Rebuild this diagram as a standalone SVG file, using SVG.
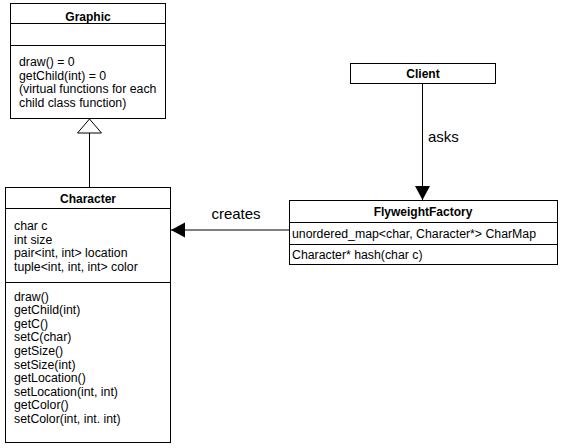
<svg xmlns="http://www.w3.org/2000/svg" width="561" height="448" viewBox="0 0 561 448">
<style>
.box{fill:#fff;stroke:#000;stroke-width:1}
.ln{stroke:#000;stroke-width:1;fill:none}
.t{font-family:"Liberation Sans",Arial,sans-serif;font-size:12.3px;fill:#000}
.b{font-family:"Liberation Sans",Arial,sans-serif;font-size:12px;font-weight:bold;fill:#000;text-anchor:middle}
.lbl{font-family:"Liberation Sans",Arial,sans-serif;font-size:15px;fill:#000}
</style>
<defs>
<marker id="tri" markerWidth="26" markerHeight="16" refX="14" refY="7.5" orient="auto" markerUnits="userSpaceOnUse"><path d="M0,0 L14,7.5 L0,15 Z" fill="#000"/></marker>
</defs>
<rect width="561" height="448" fill="#fff"/>
<g id="connectors">
<line class="ln" x1="89.5" y1="133" x2="89.5" y2="187"/>
<path d="M89.5,119 L77.5,133 L101.5,133 Z" fill="#fff" stroke="#000"/>
<line class="ln" x1="422.5" y1="84" x2="422.5" y2="200" marker-end="url(#tri)"/>
<text class="lbl" x="428" y="142">asks</text>
<line class="ln" x1="289" y1="230" x2="171" y2="230" marker-end="url(#tri)"/>
<text class="lbl" x="236" y="219" text-anchor="middle">creates</text>
</g>
<g id="graphic">
<rect class="box" x="10.5" y="3.5" width="155" height="115"/>
<line class="ln" x1="10.5" y1="23.5" x2="165.5" y2="23.5"/>
<line class="ln" x1="10.5" y1="45.5" x2="165.5" y2="45.5"/>
<text class="b" x="88" y="21">Graphic</text>
<text class="t" x="19" y="66">draw() = 0</text>
<text class="t" x="19" y="79.7">getChild(int) = 0</text>
<text class="t" x="19" y="93.4">(virtual functions for each</text>
<text class="t" x="19" y="107">child class function)</text>
</g>
<g id="character">
<rect class="box" x="5.5" y="187.5" width="165" height="255"/>
<line class="ln" x1="5.5" y1="208.5" x2="170.5" y2="208.5"/>
<line class="ln" x1="5.5" y1="282.5" x2="170.5" y2="282.5"/>
<text class="b" x="88" y="203">Character</text>
<text class="t" x="14" y="230">char c</text>
<text class="t" x="14" y="243.6">int size</text>
<text class="t" x="14" y="257.2">pair&lt;int, int&gt; location</text>
<text class="t" x="14" y="270.8">tuple&lt;int, int, int&gt; color</text>
<text class="t" x="14" y="300.5">draw()</text>
<text class="t" x="14" y="314.1">getChild(int)</text>
<text class="t" x="14" y="327.7">getC()</text>
<text class="t" x="14" y="341.3">setC(char)</text>
<text class="t" x="14" y="354.9">getSize()</text>
<text class="t" x="14" y="368.5">setSize(int)</text>
<text class="t" x="14" y="382.1">getLocation()</text>
<text class="t" x="14" y="395.7">setLocation(int, int)</text>
<text class="t" x="14" y="409.3">getColor()</text>
<text class="t" x="14" y="422.9">setColor(int, int. int)</text>
</g>
<g id="client">
<rect class="box" x="350.5" y="63.5" width="145" height="20"/>
<text class="b" x="423" y="77.5">Client</text>
</g>
<g id="flyweightfactory">
<rect class="box" x="289.5" y="200.5" width="268" height="64"/>
<line class="ln" x1="289.5" y1="222.5" x2="557.5" y2="222.5"/>
<line class="ln" x1="289.5" y1="244.5" x2="557.5" y2="244.5"/>
<text class="b" x="423" y="215.5">FlyweightFactory</text>
<text class="t" x="292" y="237.5">unordered_map&lt;char, Character*&gt; CharMap</text>
<text class="t" x="292" y="259">Character* hash(char c)</text>
</g>
</svg>
